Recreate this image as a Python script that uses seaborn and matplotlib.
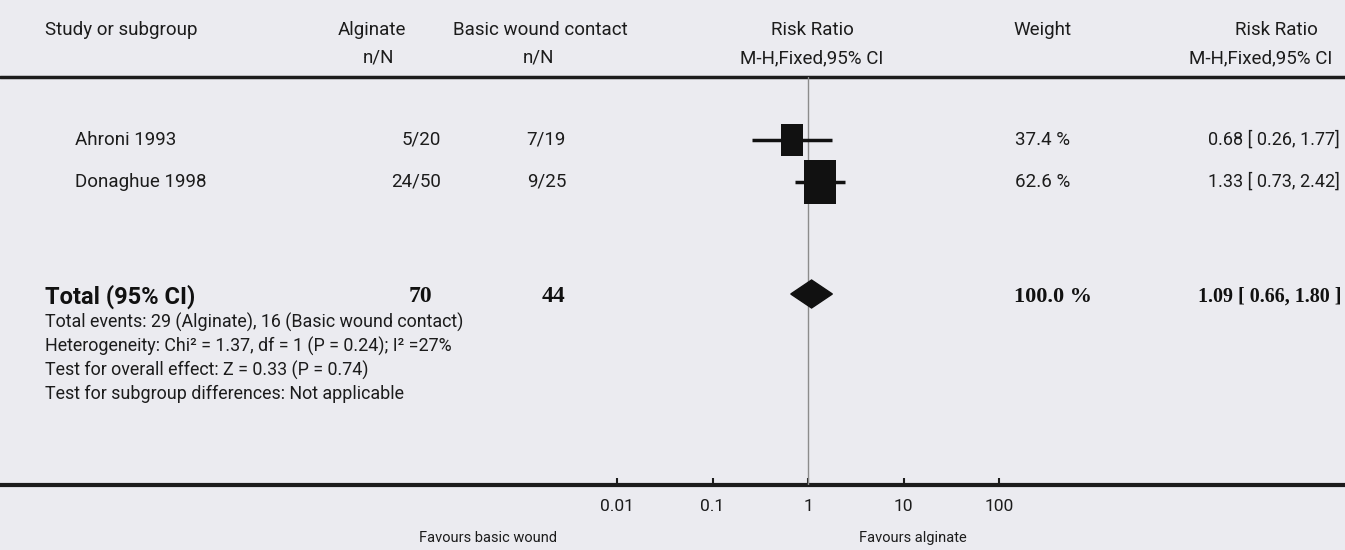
import matplotlib.pyplot as plt
import seaborn as sns
import pandas as pd
from matplotlib.ticker import NullLocator

# data
studies = ["Ahroni 1993", "Donaghue 1998"]
alg_events = [5, 24]
alg_total = [20, 50]
basic_events = [7, 9]
basic_total = [19, 25]
rr = [0.68, 1.33]
ci_lo = [0.26, 0.73]
ci_hi = [1.77, 2.42]
weights = [37.4, 62.6]

total_alg = 70
total_basic = 44
total_rr = 1.09
total_lo = 0.66
total_hi = 1.80
total_weight = 100.0

xticks = [0.01, 0.1, 1, 10, 100]
xtick_labels = ["0.01", "0.1", "1", "10", "100"]

footnotes = [
    "Total events: 29 (Alginate), 16 (Basic wound contact)",
    "Heterogeneity: Chi\u00b2 = 1.37, df = 1 (P = 0.24); I\u00b2 =27%",
    "Test for overall effect: Z = 0.33 (P = 0.74)",
    "Test for subgroup differences: Not applicable",
]

# layout (pixels)
W, H = 1345, 550
row_y = [140, 182]
total_y = 294
top_rule, bottom_rule = 77, 485
px_lo, px_hi = 617, 999   # pixel positions of 0.01 and 100

sns.set_theme(style="white")
plt.rcParams["font.family"] = ["Roboto", "DejaVu Sans"]
ink = "#1c1c1c"
serif_bold = dict(family=["Liberation Serif", "DejaVu Serif"], fontweight="bold")

fig = plt.figure(figsize=(W / 100, H / 100), dpi=100)
fig.patch.set_facecolor("#ebebf0")

# text layer in pixel coordinates
tx = fig.add_axes([0, 0, 1, 1])
tx.set_xlim(0, W)
tx.set_ylim(H, 0)
tx.axis("off")

# header
hs = 13.5
tx.text(45, 30, "Study or subgroup", fontsize=hs, color=ink, va="center")
tx.text(372, 30, "Alginate", fontsize=hs, color=ink, va="center", ha="center")
tx.text(378, 58, "n/N", fontsize=hs, color=ink, va="center", ha="center")
tx.text(540, 30, "Basic wound contact", fontsize=hs, color=ink, va="center", ha="center")
tx.text(538, 58, "n/N", fontsize=hs, color=ink, va="center", ha="center")
tx.text(812, 30, "Risk Ratio", fontsize=hs, color=ink, va="center", ha="center")
tx.text(812, 58, "M-H,Fixed,95% CI", fontsize=hs, color=ink, va="center", ha="center")
tx.text(1042, 30, "Weight", fontsize=hs, color=ink, va="center", ha="center")
tx.text(1276, 30, "Risk Ratio", fontsize=hs, color=ink, va="center", ha="center")
tx.text(1332, 58, "M-H,Fixed,95% CI", fontsize=hs, color=ink, va="center", ha="right")

tx.plot([0, W], [top_rule, top_rule], color=ink, lw=2.5)
tx.plot([0, W], [bottom_rule, bottom_rule], color=ink, lw=3)

# study rows
rs = 13.5
for i, y in enumerate(row_y):
    tx.text(75, y, studies[i], fontsize=rs, color=ink, va="center")
    tx.text(441, y, f"{alg_events[i]}/{alg_total[i]}", fontsize=rs, color=ink, va="center", ha="right")
    tx.text(566, y, f"{basic_events[i]}/{basic_total[i]}", fontsize=rs, color=ink, va="center", ha="right")
    tx.text(1070, y, f"{weights[i]:.1f} %", fontsize=rs, color=ink, va="center", ha="right")
    tx.text(1340, y, f"{rr[i]:.2f} [ {ci_lo[i]:.2f}, {ci_hi[i]:.2f}]", fontsize=13,
            color=ink, va="center", ha="right")

# total row
tx.text(45, total_y + 3, "Total (95% CI)", fontsize=17, fontweight="bold", color="#111", va="center")
tx.text(420, total_y + 3, f"{total_alg}", fontsize=17, color="#111", va="center", ha="center", **serif_bold)
tx.text(554, total_y + 3, f"{total_basic}", fontsize=17, color="#111", va="center", ha="center", **serif_bold)
tx.text(1092, total_y + 3, f"{total_weight:.1f} %", fontsize=16, color="#111", va="center", ha="right", **serif_bold)
tx.text(1342, total_y + 3, f"{total_rr:.2f} [ {total_lo:.2f}, {total_hi:.2f} ]", fontsize=14.5,
        color="#111", va="center", ha="right", **serif_bold)

for k, line in enumerate(footnotes):
    tx.text(45, 322 + k * 24, line, fontsize=12.9, color=ink, va="center")

tx.text(488, 538, "Favours basic wound", fontsize=10.5, color=ink, va="center", ha="center")
tx.text(913, 538, "Favours alginate", fontsize=10.5, color=ink, va="center", ha="center")

# forest axes
fx = fig.add_axes([px_lo / W, (H - bottom_rule) / H, (px_hi - px_lo) / W, (bottom_rule - top_rule) / H])
fx.set_xscale("log")
fx.patch.set_alpha(0)

fx.axvline(1, color="#8c8c8c", lw=1, zorder=1)
fx.hlines(row_y, ci_lo, ci_hi, color="#111", lw=2.5, zorder=2)

df = pd.DataFrame({"rr": rr, "row": row_y, "weight": weights})
rect = [(-1, -1.4), (1, -1.4), (1, 1.4), (-1, 1.4), (-1, -1.4)]
sns.scatterplot(data=df, x="rr", y="row", size="weight", sizes=(500, 1000),
                marker=rect, color="#111", edgecolor="none", linewidth=0,
                legend=False, ax=fx, zorder=3)

fx.fill([total_lo, total_rr, total_hi, total_rr],
        [total_y, total_y - 14, total_y, total_y + 14], color="#111", zorder=3)

fx.set_xlim(0.01, 100)
fx.set_ylim(bottom_rule, top_rule)
fx.set_xlabel("")
fx.set_ylabel("")
fx.set_yticks([])
fx.set_xticks(xticks)
fx.set_xticklabels(xtick_labels)
fx.xaxis.set_minor_locator(NullLocator())
fx.tick_params(axis="x", direction="in", length=5, width=1.5, color=ink, pad=10,
               labelsize=12.5, labelcolor=ink, bottom=True)
for s in fx.spines.values():
    s.set_visible(False)

fig.savefig("out.png", dpi=100, facecolor=fig.get_facecolor())
